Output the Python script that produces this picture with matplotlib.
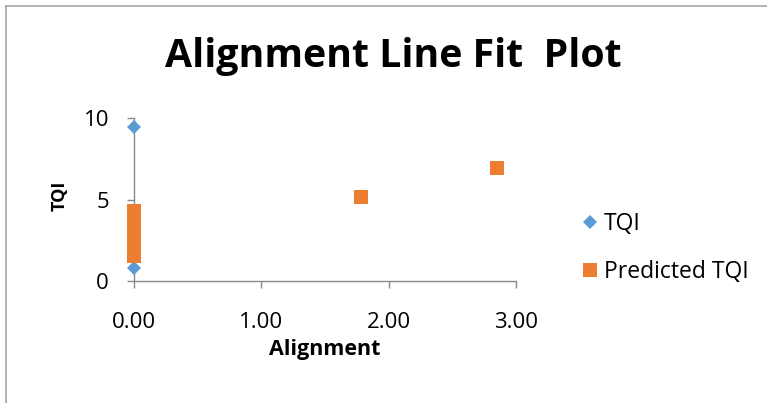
import numpy as np
import matplotlib
matplotlib.use("Agg")
from matplotlib import pyplot as plt
from matplotlib.lines import Line2D

# Alignment values and observed / predicted TQI from the regression output
alignment = [0.000, 0.000, 0.000, 0.003, 0.000, 0.003, 0.000, 0.000, 0.003, 0.000,
             0.000, 0.003, 0.000, 0.000, 0.003, 0.000, 0.000, 0.003, 0.000, 0.000,
             0.000, 0.003, 0.000, 1.78, 2.85]
tqi = [9.47, 0.82, 2.10, 3.40, 2.75, 1.90, 3.95, 2.30, 1.60, 3.10,
       2.60, 4.10, 1.75, 3.70, 2.95, 2.20, 3.25, 1.55, 4.25, 2.45,
       3.55, 2.05, 2.85, 5.15, 6.95]
predicted_tqi = [4.30, 1.53, 2.00, 2.40, 2.80, 3.20, 3.60, 4.00, 1.80, 2.20,
                 2.60, 3.00, 3.40, 3.80, 4.15, 1.65, 2.10, 2.50, 2.90, 3.30,
                 3.70, 1.95, 2.70, 5.15, 6.95]
x_ticks = [0, 1, 2, 3]
x_ticklabels = ["0.00", "1.00", "2.00", "3.00"]
y_ticks = [0, 5, 10]

blue = "#5B9BD5"
orange = "#ED7D31"
grey = "#898989"

plt.rcParams['font.family'] = ['Open Sans', 'DejaVu Sans']

W, H = 767, 403
fig = plt.figure(figsize=(W / 100, H / 100), dpi=100)

# chart area border (left and top edges only)
fig.add_artist(Line2D([6 / W, 6 / W], [0, 1 - 6 / H], color="#a6a6a6", lw=1.2))
fig.add_artist(Line2D([6 / W, 1], [1 - 6 / H, 1 - 6 / H], color="#a6a6a6", lw=1.2))

ax = fig.add_axes([134 / W, 122 / H, 382 / W, 163 / H])
ax.plot(alignment, tqi, 'D', color=blue, markersize=7.2, markeredgewidth=0,
        label="TQI", zorder=3, clip_on=False)
ax.plot(alignment, predicted_tqi, 's', color=orange, markersize=10.5,
        markeredgewidth=0, label="Predicted TQI", zorder=4, clip_on=False)

ax.set_xlim(0, 3)
ax.set_ylim(0, 10)
ax.set_xticks(x_ticks)
ax.set_xticklabels(x_ticklabels)
ax.set_yticks(y_ticks)

for side in ["top", "right"]:
    ax.spines[side].set_visible(False)
for side in ["left", "bottom"]:
    ax.spines[side].set_color(grey)
    ax.spines[side].set_linewidth(1.0)
ax.tick_params(axis="both", direction="out", length=5, width=1.0,
               color=grey, labelsize=16)
ax.tick_params(axis="x", pad=17)
ax.tick_params(axis="y", pad=13)

fig.text(325 / W, 1 - 355 / H, "Alignment", fontsize=15.5, fontweight="bold",
         ha="center", va="baseline")
fig.text(60 / W, 1 - 196 / H, "TQI", fontsize=13, fontweight="bold",
         rotation=90, ha="center", va="center")

fig.text(393 / W, 1 - 67 / H, "Alignment Line Fit  Plot", fontsize=28.3,
         fontweight="bold", ha="center", va="baseline")

fig.legend(loc="upper left", bbox_to_anchor=(572 / W, 1 - 203 / H), frameon=False,
           fontsize=16.5, handletextpad=0.2, labelspacing=1.03, handlelength=0.8,
           borderaxespad=0)

fig.savefig("out.png", dpi=100)
